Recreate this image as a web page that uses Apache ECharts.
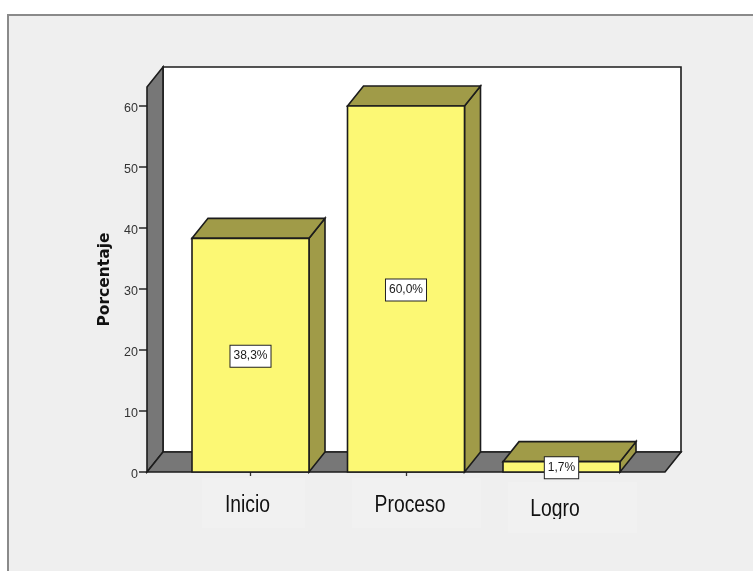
<!DOCTYPE html>
<html>
<head>
<meta charset="utf-8">
<style>html,body{margin:0;padding:0;background:#fff}#chart{width:753px;height:571px}</style>
<script src="https://cdn.jsdelivr.net/npm/echarts@6/dist/echarts.min.js"></script>
</head>
<body>
<div id="chart"></div>
<script>
// Porcentaje por nivel de logro
const categories = ['Inicio', 'Proceso', 'Logro'];
const percentages = [38.3, 60.0, 1.7];
const yTicks = [0, 10, 20, 30, 40, 50, 60];

// Oblique projection of the 3D box
const DEPTH_X = 16;
const DEPTH_Y = -20;
const SIDE_PAD_LEFT = 25.75;
const SIDE_PAD_RIGHT = 25.75;
const OUTLINE = '#1c1c1c';
const FRONT = '#fcf874';
const SHADE = '#a09b48';
const WALL = '#777777';

const chart = echarts.init(document.getElementById('chart'), null, { renderer: 'canvas' });

function poly(points, fill) {
  return {
    type: 'polygon',
    shape: { points },
    style: { fill, stroke: OUTLINE, lineWidth: 1.6, lineJoin: 'miter' }
  };
}

// Back wall, side wall and floor of the plotting box
function renderWalls(params) {
  const g = params.coordSys;
  const l = g.x - SIDE_PAD_LEFT, r = g.x + g.width + SIDE_PAD_RIGHT;
  const t = g.y, b = g.y + g.height;
  return {
    type: 'group',
    children: [
      poly([[l + DEPTH_X, t + DEPTH_Y], [r + DEPTH_X, t + DEPTH_Y], [r + DEPTH_X, b + DEPTH_Y], [l + DEPTH_X, b + DEPTH_Y]], '#ffffff'),
      poly([[l, t], [l + DEPTH_X, t + DEPTH_Y], [l + DEPTH_X, b + DEPTH_Y], [l, b]], WALL),
      poly([[l, b], [r, b], [r + DEPTH_X, b + DEPTH_Y], [l + DEPTH_X, b + DEPTH_Y]], WALL)
    ]
  };
}

// One 3D column per category, with its value tag centred on the front face
function renderBar(params, api) {
  const top = api.coord([api.value(0), api.value(1)]);
  const base = api.coord([api.value(0), 0]);
  const w = api.size([1, 0])[0] * 0.7524;
  const x0 = top[0] - w / 2, x1 = top[0] + w / 2;
  const yt = top[1], yb = base[1];
  return {
    type: 'group',
    children: [
      poly([[x1, yt], [x1 + DEPTH_X, yt + DEPTH_Y], [x1 + DEPTH_X, yb + DEPTH_Y], [x1, yb]], SHADE),
      poly([[x0, yt], [x0 + DEPTH_X, yt + DEPTH_Y], [x1 + DEPTH_X, yt + DEPTH_Y], [x1, yt]], SHADE),
      poly([[x0, yt], [x1, yt], [x1, yb], [x0, yb]], FRONT),
      {
        type: 'text',
        z2: 10,
        style: {
          x: top[0], y: (yt + yb) / 2 + 1,
          text: api.value(1).toFixed(1).replace('.', ',') + '%',
          align: 'center', verticalAlign: 'middle',
          font: '12px "Liberation Sans"',
          fill: '#1a1a1a',
          backgroundColor: '#ffffff',
          borderColor: '#222222', borderWidth: 1,
          padding: [5, 3, 4, 3]
        }
      }
    ]
  };
}

// Category captions sit on their own pale patches below the floor
const captionBoxes = [
  { x: 202, y: 478, width: 103, height: 50, cx: 247.5, cy: 506 },
  { x: 352, y: 478, width: 129, height: 50, cx: 410, cy: 506 },
  { x: 508, y: 482, width: 129, height: 51, cx: 555, cy: 510 }
];

const option = {
  backgroundColor: '#ffffff',
  animation: false,
  grid: { left: 172.75, width: 466.5, top: 87, height: 385 },
  xAxis: {
    type: 'category',
    data: categories,
    axisLine: { show: false },
    axisTick: { show: true, alignWithLabel: true, length: 4, lineStyle: { color: '#333', width: 1.3 } },
    axisLabel: { show: false }
  },
  yAxis: {
    type: 'value',
    min: 0,
    max: 385 / 6.1,
    interval: 10,
    position: 'left',
    offset: 25.75,
    name: 'Porcentaje',
    nameLocation: 'middle',
    nameGap: 34,
    nameTextStyle: { fontFamily: 'DejaVu Sans', fontWeight: 'bold', fontSize: 15.5, color: '#111' },
    axisLine: { show: false },
    axisTick: { show: true, length: 8, customValues: yTicks, lineStyle: { color: '#333', width: 1.6 } },
    axisLabel: {
      customValues: yTicks,
      margin: 9,
      formatter: v => '{t|' + v + '}',
      rich: { t: { padding: [6, 0, 0, 0], fontFamily: 'Liberation Sans', fontSize: 12.5, color: '#333' } }
    },
    splitLine: { show: false }
  },
  graphic: {
    elements: [
      { type: 'rect', z: -10, silent: true, shape: { x: 8, y: 15, width: 760, height: 570 },
        style: { fill: '#efefef', stroke: '#8a8a8a', lineWidth: 2 } },
      ...captionBoxes.flatMap((b, i) => [
        { type: 'rect', z: -9, silent: true, shape: { x: b.x, y: b.y, width: b.width, height: b.height },
          style: { fill: '#f1f1f1' } },
        { type: 'text', z: 5, silent: true, x: b.cx, y: b.cy, scaleX: 0.84,
          style: { text: categories[i], align: 'center', verticalAlign: 'middle',
            font: '23px "Liberation Sans"', fill: '#111' } }
      ]),
      // The last caption's patch trims the descender of its "g"
      { type: 'rect', z: 6, silent: true, shape: { x: 540, y: 519, width: 30, height: 7 },
        style: { fill: '#f1f1f1' } }
    ]
  },
  series: [
    { type: 'custom', coordinateSystem: 'cartesian2d', clip: false, z: 1, silent: true,
      renderItem: renderWalls, data: [[0, 0]] },
    { type: 'custom', coordinateSystem: 'cartesian2d', clip: false, z: 3, silent: true,
      renderItem: renderBar, encode: { x: 0, y: 1 },
      data: categories.map((c, i) => [i, percentages[i]]) }
  ]
};
chart.setOption(option);
</script>
</body>
</html>
